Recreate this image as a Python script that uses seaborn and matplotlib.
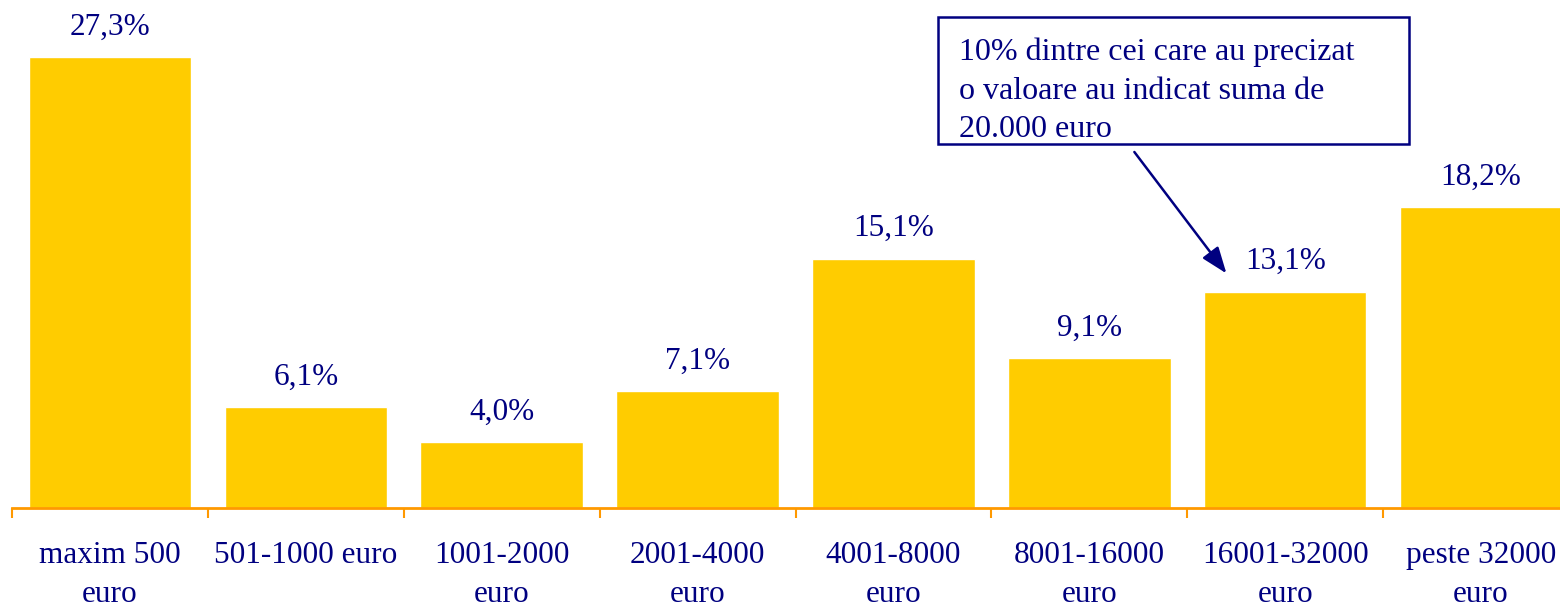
import matplotlib
matplotlib.use("Agg")
import matplotlib.pyplot as plt
import seaborn as sns
import pandas as pd
import numpy as np
from matplotlib.patches import Rectangle

# Data
categories = ["maxim 500\neuro", "501-1000 euro", "1001-2000\neuro", "2001-4000\neuro",
              "4001-8000\neuro", "8001-16000\neuro", "16001-32000\neuro", "peste 32000\neuro"]
values = [27.3, 6.1, 4.0, 7.1, 15.1, 9.1, 13.1, 18.2]
note = "10% dintre cei care au precizat\no valoare au indicat suma de\n20.000 euro"

BAR = "#FFCC00"
AXIS = "#FF9900"
NAVY = "#000080"
FS = 22.5

sns.set_style("white")
plt.rcParams["font.family"] = ["Liberation Serif", "DejaVu Serif"]

df = pd.DataFrame({"cat": categories, "val": values})

fig = plt.figure(figsize=(15.6, 6.07), dpi=100)
ax = fig.add_axes([12 / 1560, 99 / 607, 1567 / 1560, 495.6 / 607])
sns.barplot(data=df, x="cat", y="val", color=BAR, saturation=1, width=0.83, ax=ax)
ax.set_ylim(0, 30)
ax.set_xlim(-0.5, 7.5)

# value labels
for i, v in enumerate(values):
    ax.annotate(f"{v:.1f}".replace(".", ",") + "%", (i, v), xytext=(0, 11),
                textcoords="offset points", ha="center", va="bottom",
                fontsize=FS, color=NAVY)

# axes styling
for s in ["top", "right", "left"]:
    ax.spines[s].set_visible(False)
ax.spines["bottom"].set_color(AXIS)
ax.spines["bottom"].set_linewidth(2)
ax.set_yticks([])
ax.set_xlabel("")
ax.set_ylabel("")
ax.set_xticks(np.arange(len(categories)))
ax.set_xticklabels(categories, fontsize=FS, color=NAVY, linespacing=1.45, va="top")
ax.tick_params(axis="x", which="major", length=0, pad=24)
ax.set_xticks(np.arange(len(categories) + 1) - 0.5, minor=True)
ax.tick_params(axis="x", which="minor", bottom=True, length=7, width=1.5,
               color=AXIS, direction="out")

# callout box with arrow
ax.add_patch(Rectangle((4.23, 22.03), 2.40, 7.69, fill=False, edgecolor=NAVY,
                       linewidth=1.8, clip_on=False))
ax.text(4.335, 28.5, note, fontsize=23, color=NAVY, ha="left", va="top", linespacing=1.45)
ax.annotate("", xy=(5.70, 14.2), xytext=(5.23, 21.55),
            arrowprops=dict(arrowstyle="-|>,head_length=1.6,head_width=0.6",
                            color=NAVY, lw=1.8, shrinkA=0, shrinkB=0))

fig.savefig("out.png", dpi=100)
